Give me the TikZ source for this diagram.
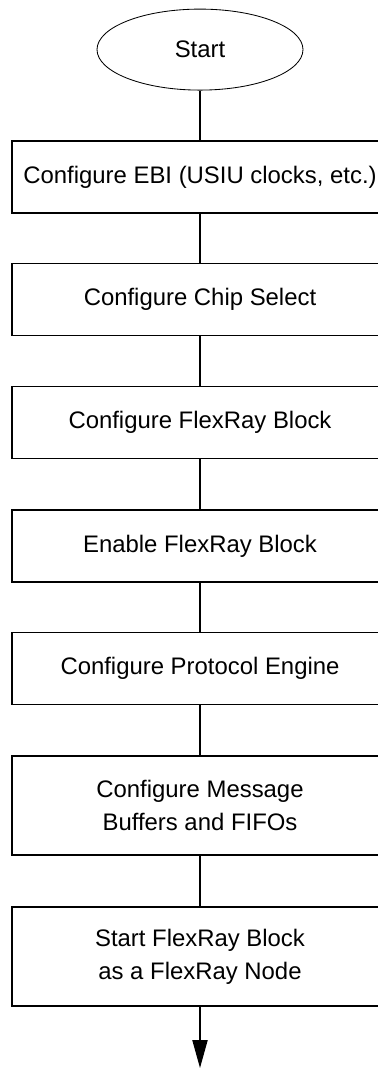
\documentclass[tikz,border=0pt]{standalone}
\usepackage{fontspec}
\setmainfont{Liberation Sans}
\usepackage{tikz}
\usetikzlibrary{shapes.geometric}
\usetikzlibrary{arrows.meta}
\tikzset{>={Triangle[width=3.8mm,length=7mm]}}
\tikzset{stepbox/.style={draw=black, line width=1pt, minimum width=9.4cm, minimum height=1.8cm, align=center, inner sep=0pt, font=\fontsize{17}{23.5}\selectfont}}
\tikzset{tallbox/.style={stepbox, minimum height=2.475cm}}
\tikzset{startnode/.style={draw=black, ellipse, line width=0.6pt, minimum width=5.15cm, minimum height=2.025cm, inner sep=0pt, font=\fontsize{17}{20}\selectfont}}

\begin{document}
\begin{tikzpicture}
    \useasboundingbox (0,0) rectangle (9.45,-26.7);

    \node[startnode] (start) at (5,-1.24) {Start};
    \node[stepbox] (ebi) at (5,-4.425) {Configure EBI (USIU clocks, etc.)};
    \node[stepbox] (cs) at (5,-7.49) {Configure Chip Select};
    \node[stepbox] (cfgfr) at (5,-10.5625) {Configure FlexRay Block};
    \node[stepbox] (enfr) at (5,-13.65) {Enable FlexRay Block};
    \node[stepbox] (pe) at (5,-16.7125) {Configure Protocol Engine};
    \node[tallbox] (mb) at (5,-20.1375) {Configure Message\\ Buffers and FIFOs};
    \node[tallbox] (startfr) at (5,-23.9125) {Start FlexRay Block\\as a FlexRay Node};
    \coordinate (out) at (5,-26.7);

    \draw[line width=1pt] (start) -- (ebi);
    \draw[line width=1pt] (ebi) -- (cs);
    \draw[line width=1pt] (cs) -- (cfgfr);
    \draw[line width=1pt] (cfgfr) -- (enfr);
    \draw[line width=1pt] (enfr) -- (pe);
    \draw[line width=1pt] (pe) -- (mb);
    \draw[line width=1pt] (mb) -- (startfr);
    \draw[->, line width=1pt] (startfr) -- (out);
\end{tikzpicture}
\end{document}
